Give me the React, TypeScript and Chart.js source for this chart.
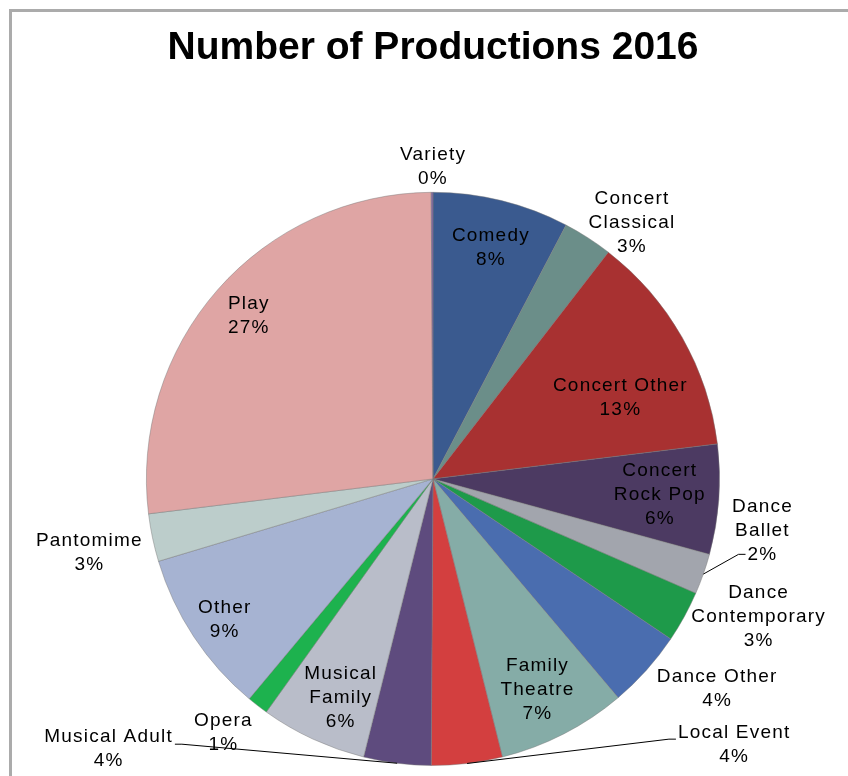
import React, { useEffect, useRef } from "react";
import { Chart, registerables } from "chart.js";

Chart.register(...registerables);

const titleText = "Number of Productions 2016";

const categories = [
  "Comedy", "Concert Classical", "Concert Other", "Concert Rock Pop",
  "Dance Ballet", "Dance Contemporary", "Dance Other", "Family Theatre",
  "Local Event", "Musical Adult", "Musical Family", "Opera",
  "Other", "Pantomime", "Play", "Variety",
];

const labelLines = [
  ["Comedy"], ["Concert", "Classical"], ["Concert Other"], ["Concert", "Rock Pop"],
  ["Dance", "Ballet"], ["Dance", "Contemporary"], ["Dance Other"], ["Family", "Theatre"],
  ["Local Event"], ["Musical Adult"], ["Musical", "Family"], ["Opera"],
  ["Other"], ["Pantomime"], ["Play"], ["Variety"],
];

const shares = [7.7, 2.8, 12.6, 6.2, 2.3, 2.9, 4.4, 7.3, 4.0, 3.8, 6.0, 1.2, 9.3, 2.7, 26.9, 0.1];

const colors = [
  "#3A5A8F", "#6B8E89", "#A83131", "#4C3A62",
  "#A2A5AD", "#1E9A4A", "#4A6DAF", "#85ACA7",
  "#D33F3F", "#5E4B7E", "#B9BDC9", "#1DB24E",
  "#A6B3D2", "#BCCDCB", "#DFA5A4", "#8064A2",
];

// label placement: radial factor, angular shift (deg), optional leader line
const placement: any[] = [
  { f: 0.83, d: 0 },
  { f: 1.13, d: 5 },
  { f: 0.71, d: 6 },
  { f: 0.79, d: 0 },
  { f: 1.16, d: -10.5, leader: { side: "left", line: 2, dy: 0 } },
  { f: 1.23, d: -5.8 },
  { f: 1.23, d: -5.3 },
  { f: 0.82, d: 1 },
  { f: 1.4, d: -41.6, leader: { side: "left", line: 0, dy: 6 } },
  { f: 1.476, d: 43.1, leader: { side: "right", line: 0, dy: 7 } },
  { f: 0.83, d: -1.7 },
  { f: 1.15, d: 2 },
  { f: 0.88, d: -0.5 },
  { f: 1.23, d: -0.3 },
  { f: 0.86, d: 0 },
  { f: 1.09, d: 0 },
];

const LABEL_FONT = "19px 'Liberation Sans', Arial, sans-serif";
const LINE_H = 24;

const labelPlugin = {
  id: "sliceLabels",
  afterDatasetsDraw(chart: any) {
    const ctx = chart.ctx;
    const meta = chart.getDatasetMeta(0);
    const data = chart.data.datasets[0].data as number[];
    const total = data.reduce((a, b) => a + b, 0);
    ctx.save();
    ctx.font = LABEL_FONT;
    try { (ctx as any).letterSpacing = "1.2px"; } catch (e) {}
    ctx.fillStyle = "#000";
    ctx.textAlign = "center";
    ctx.textBaseline = "middle";
    meta.data.forEach((arc: any, i: number) => {
      const p = arc.getProps(["x", "y", "startAngle", "endAngle", "outerRadius"], true);
      const R = p.outerRadius;
      const m0 = (p.startAngle + p.endAngle) / 2;
      const pl = placement[i];
      const m = m0 + (pl.d * Math.PI) / 180;
      const cx = p.x + Math.cos(m) * R * pl.f;
      const cy = p.y + Math.sin(m) * R * pl.f;
      const lines = [...labelLines[i], Math.round((data[i] / total) * 100) + "%"];
      const top = cy - ((lines.length - 1) * LINE_H) / 2;
      lines.forEach((t, k) => ctx.fillText(t, cx + 1, top + k * LINE_H));
      if (pl.leader) {
        const L = pl.leader;
        const w = ctx.measureText(lines[L.line]).width;
        const ey = top + L.line * LINE_H + L.dy;
        const ex = L.side === "left" ? cx - w / 2 - 1 : cx + w / 2 + 3;
        const tx = L.side === "left" ? ex - 7 : ex + 7;
        const sx = p.x + Math.cos(m0) * R;
        const sy = p.y + Math.sin(m0) * R;
        ctx.beginPath();
        ctx.strokeStyle = "#000";
        ctx.lineWidth = 1;
        ctx.moveTo(sx, sy);
        ctx.lineTo(tx, ey);
        ctx.lineTo(ex, ey);
        ctx.stroke();
      }
    });
    ctx.restore();
  },
};

export default function App() {
  const ref = useRef<HTMLCanvasElement>(null);
  useEffect(() => {
    if (!ref.current) return;
    const chart = new Chart(ref.current, {
      type: "pie",
      data: {
        labels: categories,
        datasets: [
          {
            data: shares,
            backgroundColor: colors,
            borderColor: "rgba(120,120,120,0.45)",
            borderWidth: 1,
            hoverOffset: 0,
            offset: 0,
          },
        ],
      },
      options: {
        responsive: false,
        animation: false,
        events: [],
        layout: { padding: { left: 18, right: 0, top: 0, bottom: 10 } },
        plugins: {
          legend: { display: false },
          tooltip: { enabled: false },
          title: {
            display: true,
            text: titleText,
            color: "#000",
            font: { family: "'Liberation Sans', Arial, sans-serif", size: 39, weight: "bold" },
            padding: { top: 25, bottom: 120 },
          },
        },
      },
      plugins: [labelPlugin],
    });
    return () => chart.destroy();
  }, []);
  return (
    <div>
      <div
        style={{
          position: "fixed",
          left: 9,
          top: 9,
          width: 900,
          height: 900,
          borderTop: "3px solid #ababab",
          borderLeft: "3px solid #ababab",
        }}
      />
      <canvas
        ref={ref}
        width={848}
        height={776}
        style={{ position: "fixed", left: 0, top: 0, display: "block" }}
      />
    </div>
  );
}
